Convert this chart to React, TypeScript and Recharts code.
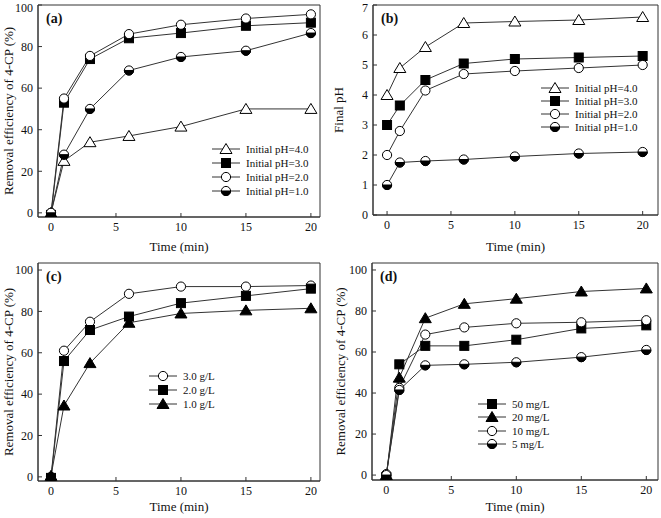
import React from 'react';
import { LineChart, Line, XAxis, YAxis, ReferenceArea, Legend } from 'recharts';

// sampling times (min), shared by all panels
const times = [0, 1, 3, 6, 10, 15, 20];
const timeTicks = [0, 5, 10, 15, 20];

// (a) removal efficiency of 4-CP for different initial pH
const removalPH4 = [0, 25, 34, 37, 41.5, 50, 50];
const removalPH3 = [-1, 53, 74, 84, 86.5, 90, 91.5];
const removalPH2 = [0, 55, 75.5, 86, 90.5, 93.5, 95.5];
const removalPH1 = [0, 28, 50, 68.5, 75, 78, 86.5];

// (b) final pH
const finalPH4 = [4.0, 4.9, 5.6, 6.4, 6.45, 6.5, 6.6];
const finalPH3 = [3.0, 3.65, 4.5, 5.05, 5.2, 5.25, 5.3];
const finalPH2 = [2.0, 2.8, 4.15, 4.7, 4.8, 4.9, 5.0];
const finalPH1 = [1.0, 1.75, 1.8, 1.85, 1.95, 2.05, 2.1];

// (c) dosage
const dose3 = [0, 61, 75, 88.5, 92, 92, 92.5];
const dose2 = [-0.5, 56, 71, 77.5, 84, 87.5, 91];
const dose1 = [0.5, 34.5, 55, 74.5, 79, 80.5, 81.5];

// (d) initial 4-CP concentration
const conc50 = [-1, 54, 63, 63, 66, 71.5, 73];
const conc20 = [0, 47.5, 76.5, 83.5, 86, 89.5, 91];
const conc10 = [0.5, 42.5, 68.5, 72, 74, 74.5, 75.5];
const conc5 = [0, 41.5, 53.5, 54, 55, 57.5, 61];

const pctTicks = [0, 20, 40, 60, 80, 100];
const phTicks = [0, 1, 2, 3, 4, 5, 6, 7];

const INK = '#333';
const FONT = '"Liberation Serif", "Times New Roman", serif';

type MarkerKind = 'triangle' | 'triangleFilled' | 'square' | 'circle' | 'half';

const Marker = ({ cx, cy, kind }: { cx: number; cy: number; kind: MarkerKind }) => {
  if (cx == null || cy == null) return null;
  const r = 4.6;
  switch (kind) {
    case 'square':
      return <rect x={cx - 4.5} y={cy - 4.5} width={9} height={9} fill="#000" stroke="#000" />;
    case 'circle':
      return <circle cx={cx} cy={cy} r={r} fill="#fff" stroke="#000" strokeWidth={1} />;
    case 'half':
      return (
        <g>
          <circle cx={cx} cy={cy} r={r} fill="#fff" stroke="#000" strokeWidth={1} />
          <path d={`M${cx - r},${cy} A${r},${r} 0 0 0 ${cx + r},${cy} Z`} fill="#000" stroke="#000" />
        </g>
      );
    case 'triangle':
    case 'triangleFilled':
      return (
        <path
          d={`M${cx},${cy - 5.5} L${cx + 6},${cy + 4.5} L${cx - 6},${cy + 4.5} Z`}
          fill={kind === 'triangle' ? '#fff' : '#000'}
          stroke="#000"
          strokeWidth={1}
        />
      );
  }
  return null;
};

interface SeriesDef {
  key: string;
  name: string;
  values: number[];
  kind: MarkerKind;
}

interface PanelProps {
  tag: string;
  series: SeriesDef[];
  left: number;
  top: number;
  width: number;
  height: number;
  margin: { top: number; right: number; left: number; bottom: number };
  yWidth: number;
  xHeight: number;
  xDomain: [number, number];
  yDomain: [number, number];
  yTicks: number[];
  yLabel: string;
  yLabelX: number;
  xLabelY: number;
  legendPos: { left: number; top: number };
  legendGap: number;
}

const makeRows = (series: SeriesDef[]) =>
  times.map((t, i) => {
    const row: Record<string, number> = { t };
    series.forEach(s => {
      row[s.key] = s.values[i];
    });
    return row;
  });

const Panel = (p: PanelProps) => {
  const data = makeRows(p.series);
  const tickStyle = { fill: '#111', fontSize: 12, fontFamily: FONT };
  const plotLeft = p.margin.left + p.yWidth;
  const plotRight = p.width - p.margin.right;
  const plotMidY = p.margin.top + (p.height - p.margin.top - p.xHeight) / 2;

  const renderLegend = () => (
    <div style={{ fontFamily: FONT, fontSize: 11, color: '#111' }}>
      {p.series.map(s => (
        <div key={s.key} style={{ display: 'flex', alignItems: 'center', height: p.legendGap }}>
          <svg width={32} height={12} style={{ marginRight: 4, flexShrink: 0 }}>
            <line x1={2} y1={6} x2={30} y2={6} stroke={INK} />
            <Marker cx={16} cy={6} kind={s.kind} />
          </svg>
          <span>{s.name}</span>
        </div>
      ))}
    </div>
  );

  return (
    <div style={{ position: 'absolute', left: p.left, top: p.top }}>
      <LineChart width={p.width} height={p.height} data={data} margin={p.margin}>
        <XAxis
          dataKey="t"
          type="number"
          domain={p.xDomain}
          ticks={timeTicks}
          allowDataOverflow
          height={p.xHeight}
          tick={tickStyle}
          tickSize={-4}
          tickMargin={9}
          stroke={INK}
          label={{
            content: () => (
              <text
                x={(plotLeft + plotRight) / 2}
                y={p.xLabelY}
                textAnchor="middle"
                fontSize={13}
                fontFamily={FONT}
                fill="#111"
              >
                Time (min)
              </text>
            )
          }}
        />
        <YAxis
          type="number"
          domain={p.yDomain}
          ticks={p.yTicks}
          allowDataOverflow
          width={p.yWidth}
          tick={tickStyle}
          tickSize={-4}
          tickMargin={9}
          stroke={INK}
          label={{
            content: () => (
              <text
                x={p.yLabelX}
                y={plotMidY}
                transform={`rotate(-90 ${p.yLabelX} ${plotMidY})`}
                textAnchor="middle"
                fontSize={13}
                fontFamily={FONT}
                fill="#111"
              >
                {p.yLabel}
              </text>
            )
          }}
        />
        <ReferenceArea
          x1={p.xDomain[0]}
          x2={p.xDomain[1]}
          y1={p.yDomain[0]}
          y2={p.yDomain[1]}
          fill="none"
          fillOpacity={0}
          stroke={INK}
          strokeOpacity={1}
          label={{
            value: p.tag,
            position: 'insideTopLeft',
            offset: 8,
            fontSize: 14,
            fontWeight: 'bold',
            fontFamily: FONT,
            fill: '#111'
          }}
        />
        {p.series.map(s => (
          <Line
            key={s.key}
            dataKey={s.key}
            name={s.name}
            type="linear"
            stroke={INK}
            strokeWidth={1}
            isAnimationActive={false}
            dot={(dp: any) => <Marker key={`${s.key}-${dp.index}`} cx={dp.cx} cy={dp.cy} kind={s.kind} />}
            activeDot={false}
          />
        ))}
        <Legend
          layout="vertical"
          align="center"
          verticalAlign="middle"
          content={renderLegend}
          wrapperStyle={{ position: 'absolute', left: p.legendPos.left, top: p.legendPos.top, width: 'auto', height: 'auto' }}
        />
      </LineChart>
    </div>
  );
};

const pctLabel = 'Removal efficiency of 4-CP (%)';

export default function App() {
  return (
    <div
      style={{
        position: 'absolute',
        left: 0,
        top: 0,
        width: 661,
        height: 518,
        background: '#fff',
        fontFamily: FONT
      }}
    >
      <Panel
        tag="(a)"
        series={[
          { key: 'p4', name: 'Initial pH=4.0', values: removalPH4, kind: 'triangle' },
          { key: 'p3', name: 'Initial pH=3.0', values: removalPH3, kind: 'square' },
          { key: 'p2', name: 'Initial pH=2.0', values: removalPH2, kind: 'circle' },
          { key: 'p1', name: 'Initial pH=1.0', values: removalPH1, kind: 'half' }
        ]}
        left={0}
        top={0}
        width={330}
        height={258}
        margin={{ top: 5, right: 10, left: 0, bottom: 0 }}
        yWidth={38}
        xHeight={41}
        xDomain={[-1, 20.7]}
        yDomain={[-2, 100]}
        yTicks={pctTicks}
        yLabel={pctLabel}
        yLabelX={13}
        xLabelY={251}
        legendPos={{ left: 210, top: 142 }}
        legendGap={14}
      />
      <Panel
        tag="(b)"
        series={[
          { key: 'p4', name: 'Initial pH=4.0', values: finalPH4, kind: 'triangle' },
          { key: 'p3', name: 'Initial pH=3.0', values: finalPH3, kind: 'square' },
          { key: 'p2', name: 'Initial pH=2.0', values: finalPH2, kind: 'circle' },
          { key: 'p1', name: 'Initial pH=1.0', values: finalPH1, kind: 'half' }
        ]}
        left={330}
        top={0}
        width={331}
        height={258}
        margin={{ top: 5, right: 3, left: 0, bottom: 0 }}
        yWidth={43}
        xHeight={43}
        xDomain={[-1.1, 21.2]}
        yDomain={[0, 7]}
        yTicks={phTicks}
        yLabel="Final pH"
        yLabelX={13}
        xLabelY={251}
        legendPos={{ left: 209, top: 81 }}
        legendGap={13}
      />
      <Panel
        tag="(c)"
        series={[
          { key: 'd3', name: '3.0 g/L', values: dose3, kind: 'circle' },
          { key: 'd2', name: '2.0 g/L', values: dose2, kind: 'square' },
          { key: 'd1', name: '1.0 g/L', values: dose1, kind: 'triangleFilled' }
        ]}
        left={0}
        top={258}
        width={330}
        height={260}
        margin={{ top: 5, right: 10, left: 0, bottom: 0 }}
        yWidth={38}
        xHeight={37}
        xDomain={[-1, 20.7]}
        yDomain={[-2, 103.4]}
        yTicks={pctTicks}
        yLabel={pctLabel}
        yLabelX={13}
        xLabelY={253}
        legendPos={{ left: 147, top: 111 }}
        legendGap={14}
      />
      <Panel
        tag="(d)"
        series={[
          { key: 'c50', name: '50 mg/L', values: conc50, kind: 'square' },
          { key: 'c20', name: '20 mg/L', values: conc20, kind: 'triangleFilled' },
          { key: 'c10', name: '10 mg/L', values: conc10, kind: 'circle' },
          { key: 'c5', name: '5 mg/L', values: conc5, kind: 'half' }
        ]}
        left={330}
        top={258}
        width={331}
        height={260}
        margin={{ top: 5, right: 3, left: 0, bottom: 0 }}
        yWidth={42}
        xHeight={38}
        xDomain={[-1.1, 20.9]}
        yDomain={[-2.4, 103.4]}
        yTicks={pctTicks}
        yLabel={pctLabel}
        yLabelX={15}
        xLabelY={253}
        legendPos={{ left: 146, top: 139 }}
        legendGap={13.5}
      />
    </div>
  );
}
